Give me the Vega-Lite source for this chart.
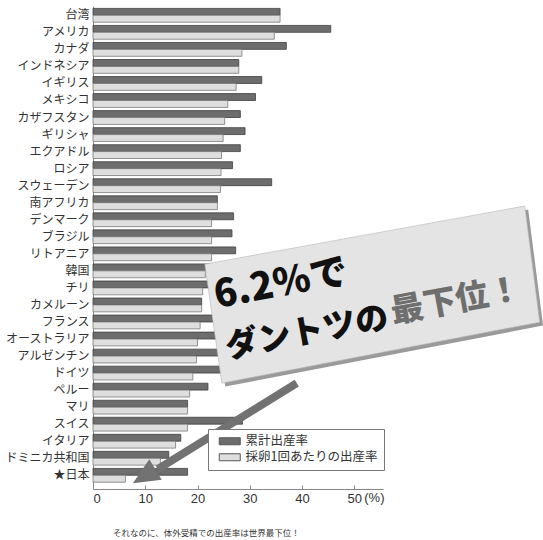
{
  "$schema": "https://vega.github.io/schema/vega-lite/v6.json",
  "width": 290,
  "height": 483,
  "autosize": {"type": "none"},
  "padding": {"left": 93, "top": 6, "right": 160, "bottom": 51},
  "config": {"view": {"stroke": null}, "font": "Noto Sans CJK JP"},
  "title": {"text": "それなのに、体外受精での出産率は世界最下位！", "orient": "bottom", "anchor": "start", "frame": "group", "dx": 20, "offset": 24, "fontSize": 8.5, "fontWeight": "normal", "color": "#333", "font": "Noto Sans CJK JP"},
  "layer": [
    {
      "data": {"values": [
        {"country": "台湾", "series": "累計出産率", "value": 35.8}, {"country": "台湾", "series": "採卵1回あたりの出産率", "value": 35.8},
        {"country": "アメリカ", "series": "累計出産率", "value": 45.5}, {"country": "アメリカ", "series": "採卵1回あたりの出産率", "value": 34.7},
        {"country": "カナダ", "series": "累計出産率", "value": 37.0}, {"country": "カナダ", "series": "採卵1回あたりの出産率", "value": 28.5},
        {"country": "インドネシア", "series": "累計出産率", "value": 27.9}, {"country": "インドネシア", "series": "採卵1回あたりの出産率", "value": 27.9},
        {"country": "イギリス", "series": "累計出産率", "value": 32.3}, {"country": "イギリス", "series": "採卵1回あたりの出産率", "value": 27.4},
        {"country": "メキシコ", "series": "累計出産率", "value": 31.1}, {"country": "メキシコ", "series": "採卵1回あたりの出産率", "value": 25.8},
        {"country": "カザフスタン", "series": "累計出産率", "value": 28.2}, {"country": "カザフスタン", "series": "採卵1回あたりの出産率", "value": 25.2},
        {"country": "ギリシャ", "series": "累計出産率", "value": 29.1}, {"country": "ギリシャ", "series": "採卵1回あたりの出産率", "value": 24.9},
        {"country": "エクアドル", "series": "累計出産率", "value": 28.2}, {"country": "エクアドル", "series": "採卵1回あたりの出産率", "value": 24.6},
        {"country": "ロシア", "series": "累計出産率", "value": 26.7}, {"country": "ロシア", "series": "採卵1回あたりの出産率", "value": 24.5},
        {"country": "スウェーデン", "series": "累計出産率", "value": 34.2}, {"country": "スウェーデン", "series": "採卵1回あたりの出産率", "value": 24.4},
        {"country": "南アフリカ", "series": "累計出産率", "value": 23.8}, {"country": "南アフリカ", "series": "採卵1回あたりの出産率", "value": 23.8},
        {"country": "デンマーク", "series": "累計出産率", "value": 26.9}, {"country": "デンマーク", "series": "採卵1回あたりの出産率", "value": 22.7},
        {"country": "ブラジル", "series": "累計出産率", "value": 26.6}, {"country": "ブラジル", "series": "採卵1回あたりの出産率", "value": 22.7},
        {"country": "リトアニア", "series": "累計出産率", "value": 27.3}, {"country": "リトアニア", "series": "採卵1回あたりの出産率", "value": 22.7},
        {"country": "韓国", "series": "累計出産率", "value": 30.0}, {"country": "韓国", "series": "採卵1回あたりの出産率", "value": 21.5},
        {"country": "チリ", "series": "累計出産率", "value": 27.0}, {"country": "チリ", "series": "採卵1回あたりの出産率", "value": 21.0},
        {"country": "カメルーン", "series": "累計出産率", "value": 20.8}, {"country": "カメルーン", "series": "採卵1回あたりの出産率", "value": 20.8},
        {"country": "フランス", "series": "累計出産率", "value": 31.0}, {"country": "フランス", "series": "採卵1回あたりの出産率", "value": 20.5},
        {"country": "オーストラリア", "series": "累計出産率", "value": 27.0}, {"country": "オーストラリア", "series": "採卵1回あたりの出産率", "value": 20.0},
        {"country": "アルゼンチン", "series": "累計出産率", "value": 26.0}, {"country": "アルゼンチン", "series": "採卵1回あたりの出産率", "value": 19.8},
        {"country": "ドイツ", "series": "累計出産率", "value": 24.5}, {"country": "ドイツ", "series": "採卵1回あたりの出産率", "value": 19.1},
        {"country": "ペルー", "series": "累計出産率", "value": 22.0}, {"country": "ペルー", "series": "採卵1回あたりの出産率", "value": 18.5},
        {"country": "マリ", "series": "累計出産率", "value": 18.1}, {"country": "マリ", "series": "採卵1回あたりの出産率", "value": 18.1},
        {"country": "スイス", "series": "累計出産率", "value": 28.6}, {"country": "スイス", "series": "採卵1回あたりの出産率", "value": 18.1},
        {"country": "イタリア", "series": "累計出産率", "value": 16.8}, {"country": "イタリア", "series": "採卵1回あたりの出産率", "value": 15.8},
        {"country": "ドミニカ共和国", "series": "累計出産率", "value": 14.5}, {"country": "ドミニカ共和国", "series": "採卵1回あたりの出産率", "value": 12.9},
        {"country": "★日本", "series": "累計出産率", "value": 18.1}, {"country": "★日本", "series": "採卵1回あたりの出産率", "value": 6.2}
      ]},
      "mark": {"type": "bar", "strokeWidth": 0.8},
      "encoding": {
        "y": {"field": "country", "type": "nominal", "sort": null,
              "scale": {"paddingInner": 0.19, "paddingOuter": 0.27, "align": 0.26},
              "axis": {"title": null, "ticks": false, "labelFontSize": 12, "labelColor": "#333", "labelPadding": 4, "domainColor": "#888", "labelFont": "Noto Sans CJK JP"}},
        "yOffset": {"field": "series", "type": "nominal", "sort": ["累計出産率", "採卵1回あたりの出産率"], "scale": {"paddingInner": 0, "paddingOuter": 0}},
        "x": {"field": "value", "type": "quantitative", "scale": {"domain": [0, 55.5], "nice": false},
              "axis": {"title": null, "values": [0, 10, 20, 30, 40, 50], "grid": false, "tickSize": -4, "tickColor": "#888", "domainColor": "#888", "labelFont": "Liberation Sans", "labelFontSize": 13, "labelColor": "#333", "labelPadding": 7}},
        "fill": {"field": "series", "type": "nominal", "sort": ["累計出産率", "採卵1回あたりの出産率"], "scale": {"range": ["#6d6d6d", "#dedede"]},
                 "legend": {"title": null, "orient": "none", "legendX": 115, "legendY": 423, "direction": "vertical", "padding": 6, "strokeColor": "#777", "fillColor": "white", "labelFontSize": 12.5, "labelColor": "#333", "labelFont": "Noto Sans CJK JP", "symbolType": "M-0.2,-0.7H4V0.7H-0.2Z", "symbolSize": 100, "symbolStrokeWidth": 1, "symbolStrokeColor": "#555", "symbolOpacity": 1, "rowPadding": 3, "labelOffset": 19}},
        "stroke": {"field": "series", "type": "nominal", "sort": ["累計出産率", "採卵1回あたりの出産率"], "scale": {"range": ["#404040", "#7a7a7a"]}, "legend": null}
      }
    },
    {
      "data": {"values": [{}]},
      "mark": {"type": "point", "shape": "M-0.982,-0.176L0.9,-0.518L0.988,0.165L-0.882,0.524Z", "size": 115600, "filled": true, "color": "#9a9a9a", "opacity": 1, "strokeWidth": 0},
      "encoding": {
        "x": {"datum": 54.0, "type": "quantitative", "scale": {"domain": [0, 55.5]}},
        "y": {"datum": 16.9, "type": "quantitative", "scale": {"domain": [0, 28], "reverse": true}, "axis": null}
      }
    },
    {
      "data": {"values": [{}]},
      "mark": {"type": "point", "shape": "M-0.982,-0.176L0.9,-0.518L0.988,0.165L-0.882,0.524Z", "size": 115600, "filled": true, "color": "#e4e4e4", "opacity": 1, "stroke": "#b5b5b5", "strokeWidth": 0.6},
      "encoding": {
        "x": {"datum": 53.35, "type": "quantitative", "scale": {"domain": [0, 55.5]}},
        "y": {"datum": 16.7, "type": "quantitative", "scale": {"domain": [0, 28], "reverse": true}, "axis": null}
      }
    },
    {
      "data": {"values": [{}]},
      "mark": {"type": "text", "text": "6.2%で", "align": "left", "baseline": "alphabetic", "angle": -10.5, "fontSize": 38, "fontWeight": 900, "color": "#111", "font": "Noto Sans CJK JP"},
      "encoding": {
        "x": {"datum": 23.7, "type": "quantitative", "scale": {"domain": [0, 55.5]}},
        "y": {"datum": 17.5, "type": "quantitative", "scale": {"domain": [0, 28], "reverse": true}, "axis": null}
      }
    },
    {
      "data": {"values": [{}]},
      "mark": {"type": "text", "text": "ダントツの", "align": "left", "baseline": "alphabetic", "angle": -10.5, "fontSize": 33, "fontWeight": 900, "color": "#111", "font": "Noto Sans CJK JP"},
      "encoding": {
        "x": {"datum": 25.8, "type": "quantitative", "scale": {"domain": [0, 55.5]}},
        "y": {"datum": 20.4, "type": "quantitative", "scale": {"domain": [0, 28], "reverse": true}, "axis": null}
      }
    },
    {
      "data": {"values": [{}]},
      "mark": {"type": "text", "text": "最下位！", "align": "left", "baseline": "alphabetic", "angle": -10.5, "fontSize": 33, "fontWeight": 900, "color": "#6e6e6e", "font": "Noto Sans CJK JP"},
      "encoding": {
        "x": {"datum": 57.4, "type": "quantitative", "scale": {"domain": [0, 55.5]}},
        "y": {"datum": 18.38, "type": "quantitative", "scale": {"domain": [0, 28], "reverse": true}, "axis": null}
      }
    },
    {
      "data": {"values": [{}]},
      "mark": {"type": "rule", "strokeWidth": 8, "color": "#727272", "strokeCap": "butt"},
      "encoding": {
        "x": {"datum": 39.0, "type": "quantitative", "scale": {"domain": [0, 55.5]}},
        "y": {"datum": 21.86, "type": "quantitative", "scale": {"domain": [0, 28], "reverse": true}, "axis": null},
        "x2": {"datum": 12.4},
        "y2": {"datum": 26.85}
      }
    },
    {
      "data": {"values": [{}]},
      "mark": {"type": "point", "shape": "M0,-1L-0.9,1L0.9,1Z", "size": 702, "angle": 238.6, "filled": true, "color": "#727272", "opacity": 1, "strokeWidth": 0},
      "encoding": {
        "x": {"datum": 9.8, "type": "quantitative", "scale": {"domain": [0, 55.5]}},
        "y": {"datum": 27.27, "type": "quantitative", "scale": {"domain": [0, 28], "reverse": true}, "axis": null}
      }
    },
    {
      "data": {"values": [{}]},
      "mark": {"type": "text", "text": "(%)", "align": "left", "baseline": "alphabetic", "dx": 10, "dy": 13, "fontSize": 13, "color": "#333", "font": "Liberation Sans"},
      "encoding": {
        "x": {"datum": 50, "type": "quantitative", "scale": {"domain": [0, 55.5]}},
        "y": {"datum": 28, "type": "quantitative", "scale": {"domain": [0, 28], "reverse": true}, "axis": null}
      }
    }
  ],
  "resolve": {"scale": {"y": "independent"}}
}
